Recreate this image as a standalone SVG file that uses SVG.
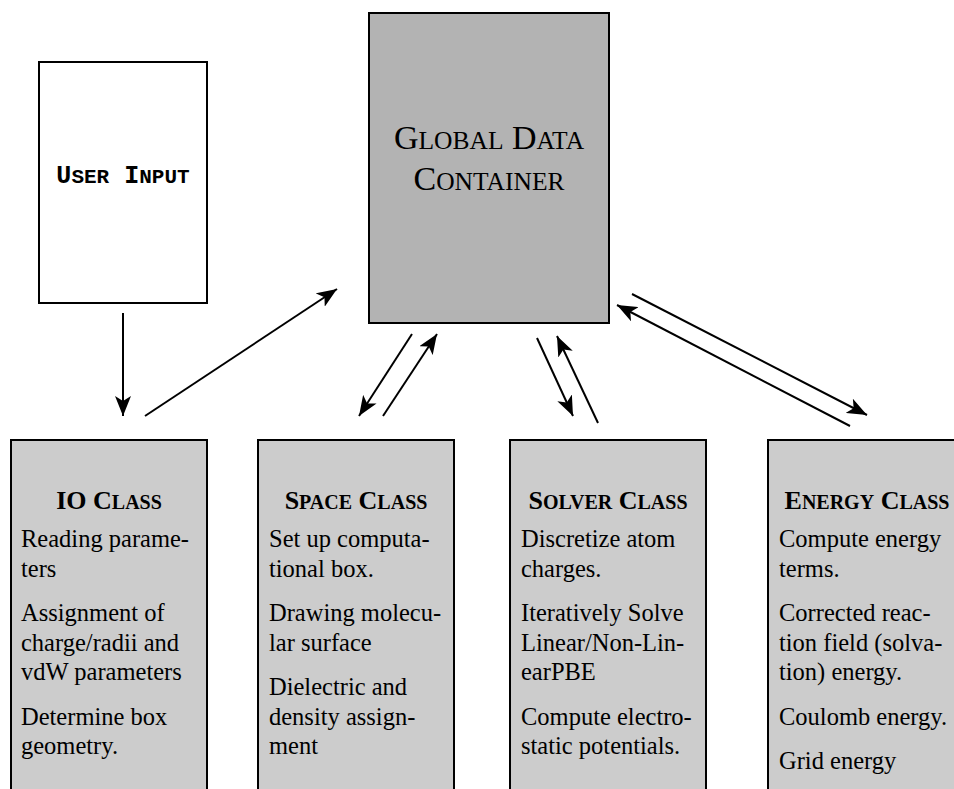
<svg xmlns="http://www.w3.org/2000/svg" width="954" height="789" viewBox="0 0 954 789">
<style>
.box{stroke:#000;stroke-width:2}
.cls{fill:#cccccc}
.title{font-family:"Liberation Serif",serif;font-weight:bold;font-size:26px;text-anchor:middle;fill:#000}
.title .sc{font-size:20px}
.body{font-family:"Liberation Serif",serif;font-size:24.5px;fill:#000}
.glob{font-family:"Liberation Serif",serif;font-size:34px;text-anchor:middle;fill:#000}
.glob .sc{font-size:25.5px}
.user{font-family:"Liberation Mono",monospace;font-weight:bold;font-size:25px;text-anchor:middle;fill:#000}
.user .sc{font-size:21px}
.conn line{stroke:#000;stroke-width:2;fill:none;marker-end:url(#ah)}
</style>
<defs>
<marker id="ah" markerUnits="userSpaceOnUse" markerWidth="22" markerHeight="16" refX="20" refY="8" orient="auto">
<path d="M0,0 L20,8 L0,16 L5,8 Z" fill="#000"/>
</marker>
</defs>
<rect width="954" height="789" fill="#fff"/>
<g id="user-input">
<rect class="box" x="39" y="62" width="168" height="241" fill="#fff" stroke-width="1.5"/>
<text class="user" x="123" y="183" xml:space="preserve">U<tspan class="sc">SER</tspan> I<tspan class="sc">NPUT</tspan></text>
</g>
<g id="global-data">
<rect class="box" x="369" y="13" width="240" height="310" fill="#b3b3b3"/>
<text class="glob" x="489" y="149">G<tspan class="sc">LOBAL</tspan> D<tspan class="sc">ATA</tspan></text>
<text class="glob" x="489" y="190">C<tspan class="sc">ONTAINER</tspan></text>
</g>
<g id="io-class">
<rect class="box cls" x="11" y="440" width="196" height="360"/>
<text class="title" x="109" y="509">IO C<tspan class="sc">LASS</tspan></text>
<text class="body" x="21"><tspan x="21" y="547">Reading parame-</tspan><tspan x="21" y="576.5">ters</tspan><tspan x="21" y="621">Assignment of</tspan><tspan x="21" y="650.5">charge/radii and</tspan><tspan x="21" y="680">vdW parameters</tspan><tspan x="21" y="724.5">Determine box</tspan><tspan x="21" y="754">geometry.</tspan></text>
</g>
<g id="space-class">
<rect class="box cls" x="258" y="440" width="196" height="360"/>
<text class="title" x="356" y="509">S<tspan class="sc">PACE</tspan> C<tspan class="sc">LASS</tspan></text>
<text class="body"><tspan x="269" y="547">Set up computa-</tspan><tspan x="269" y="576.5">tional box.</tspan><tspan x="269" y="621">Drawing molecu-</tspan><tspan x="269" y="650.5">lar surface</tspan><tspan x="269" y="695">Dielectric and</tspan><tspan x="269" y="724.5">density assign-</tspan><tspan x="269" y="754">ment</tspan></text>
</g>
<g id="solver-class">
<rect class="box cls" x="510" y="440" width="196" height="360"/>
<text class="title" x="608" y="509">S<tspan class="sc">OLVER</tspan> C<tspan class="sc">LASS</tspan></text>
<text class="body"><tspan x="521" y="547">Discretize atom</tspan><tspan x="521" y="576.5">charges.</tspan><tspan x="521" y="621">Iteratively Solve</tspan><tspan x="521" y="650.5">Linear/Non-Lin-</tspan><tspan x="521" y="680">earPBE</tspan><tspan x="521" y="724.5">Compute electro-</tspan><tspan x="521" y="754">static potentials.</tspan></text>
</g>
<g id="energy-class">
<rect class="box cls" x="768" y="440" width="198" height="360"/>
<text class="title" x="867" y="509">E<tspan class="sc">NERGY</tspan> C<tspan class="sc">LASS</tspan></text>
<text class="body"><tspan x="779" y="547">Compute energy</tspan><tspan x="779" y="576.5">terms.</tspan><tspan x="779" y="621">Corrected reac-</tspan><tspan x="779" y="650.5">tion field (solva-</tspan><tspan x="779" y="680">tion) energy.</tspan><tspan x="779" y="724.5">Coulomb energy.</tspan><tspan x="779" y="769">Grid energy</tspan></text>
</g>
<g id="connectors" class="conn">
<line x1="123" y1="313" x2="123" y2="416"/>
<line x1="145" y1="416" x2="337" y2="289"/>
<line x1="412" y1="334" x2="359" y2="416"/>
<line x1="383" y1="416" x2="437" y2="334"/>
<line x1="537" y1="338" x2="573" y2="416"/>
<line x1="598" y1="423" x2="557" y2="336"/>
<line x1="632" y1="294" x2="867" y2="415"/>
<line x1="850" y1="426" x2="617" y2="305"/>
</g>
</svg>
